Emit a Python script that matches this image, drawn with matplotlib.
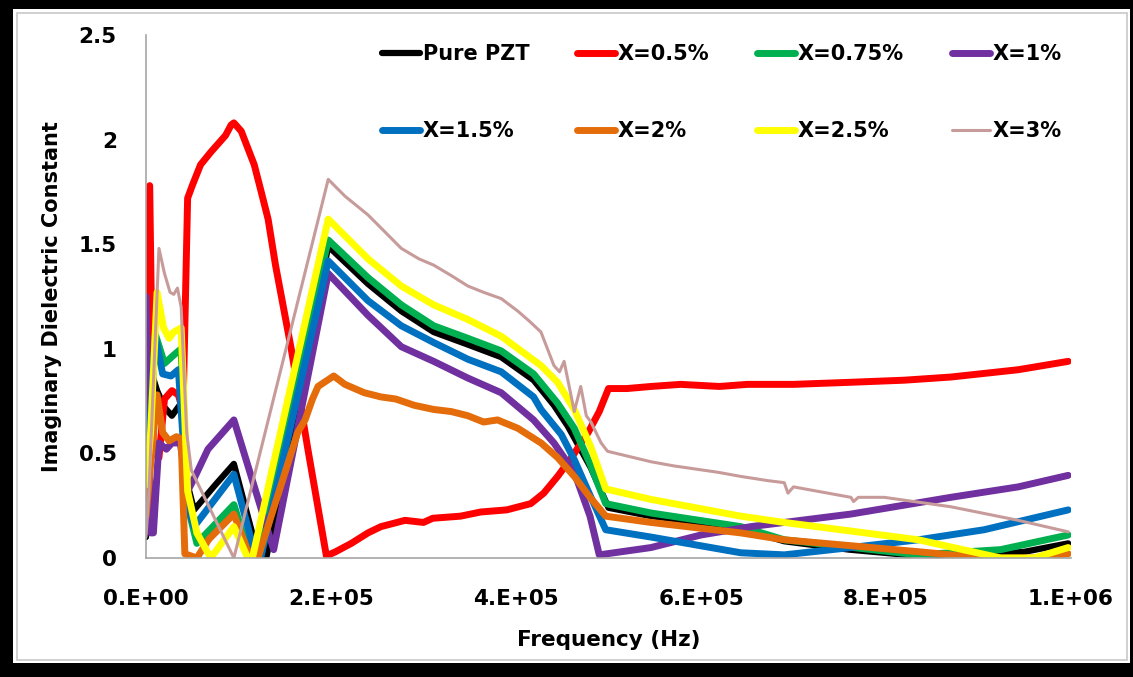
import matplotlib.pyplot as plt
from matplotlib.patches import Rectangle

# Imaginary dielectric constant vs frequency for PZT doped at several levels.
# Frequencies in kHz, converted to Hz when plotted.
f_pure = [0, 5, 12, 20, 28, 33, 38, 45, 52, 75, 95, 110, 122, 130, 197, 240, 276, 311, 348, 384,
          419, 441, 456, 481, 500, 546, 600, 643, 690, 760, 835, 900, 950, 997]
e_pure = [0.10, 0.90, 0.80, 0.72, 0.68, 0.71, 0.74, 0.35, 0.23, 0.35, 0.45, 0.20, 0.00, 0.00, 1.49, 1.31,
          1.18, 1.08, 1.02, 0.96, 0.85, 0.73, 0.63, 0.43, 0.24, 0.20, 0.17, 0.14, 0.08, 0.04, 0.01, 0.01,
          0.03, 0.07]

f_05 = [0, 4, 8, 14, 20, 28, 35, 40, 45, 50, 59, 70, 78, 86, 92, 95, 103, 117, 124, 132, 140, 157,
        175, 195, 205, 222, 240, 254, 280, 300, 310, 340, 362, 390, 416, 430, 445, 460, 478, 490,
        500, 520, 546, 578, 620, 650, 700, 762, 820, 870, 943, 997]
e_05 = [0.60, 1.78, 0.50, 0.48, 0.76, 0.80, 0.78, 0.70, 1.72, 1.78, 1.88, 1.94, 1.98, 2.02, 2.07,
        2.08, 2.04, 1.88, 1.76, 1.62, 1.40, 1.00, 0.52, 0.01, 0.03, 0.07, 0.12, 0.15, 0.18, 0.17,
        0.19, 0.20, 0.22, 0.23, 0.26, 0.31, 0.39, 0.48, 0.60, 0.70, 0.81, 0.81, 0.82, 0.83, 0.82,
        0.83, 0.83, 0.84, 0.85, 0.865, 0.90, 0.94]

f_075 = [0, 10, 20, 30, 38, 45, 55, 95, 113, 120, 197, 240, 276, 311, 348, 384, 419, 445, 463, 480,
         497, 546, 643, 690, 835, 924, 997]
e_075 = [0.30, 1.07, 0.93, 0.97, 1.00, 0.25, 0.07, 0.255, 0.00, 0.00, 1.52, 1.34, 1.21, 1.11, 1.05,
         0.99, 0.88, 0.74, 0.62, 0.45, 0.26, 0.215, 0.15, 0.087, 0.015, 0.04, 0.11]

f_1 = [0, 5, 8, 14, 22, 28, 37, 45, 52, 67, 95, 138, 197, 240, 276, 311, 348, 384, 419, 441, 463,
       480, 490, 546, 600, 654, 762, 870, 943, 997]
e_1 = [1.25, 0.12, 0.12, 0.55, 0.52, 0.55, 0.55, 0.32, 0.38, 0.52, 0.66, 0.04, 1.36, 1.16, 1.01,
       0.94, 0.86, 0.79, 0.66, 0.55, 0.41, 0.20, 0.015, 0.05, 0.11, 0.15, 0.21, 0.29, 0.34, 0.395]

f_15 = [0, 10, 18, 27, 35, 45, 52, 95, 119, 124, 197, 240, 276, 311, 348, 384, 419, 427, 449, 463,
        480, 497, 546, 643, 690, 762, 835, 906, 997]
e_15 = [0.30, 1.06, 0.88, 0.87, 0.90, 0.25, 0.15, 0.40, 0.00, 0.00, 1.42, 1.23, 1.11, 1.03, 0.95,
        0.89, 0.77, 0.71, 0.59, 0.47, 0.30, 0.135, 0.10, 0.025, 0.015, 0.05, 0.087, 0.135, 0.23]

f_2 = [0, 5, 12, 18, 25, 33, 38, 42, 55, 68, 95, 113, 121, 164, 172, 180, 186, 203, 215, 236, 254,
       270, 290, 311, 330, 348, 365, 380, 402, 427, 445, 463, 480, 497, 546, 643, 690, 835, 906,
       960, 997]
e_2 = [0.20, 0.45, 0.78, 0.60, 0.56, 0.58, 0.57, 0.02, 0.00, 0.09, 0.21, 0.00, 0.00, 0.60, 0.66,
       0.76, 0.82, 0.87, 0.83, 0.79, 0.77, 0.76, 0.73, 0.71, 0.70, 0.68, 0.65, 0.66, 0.62, 0.55,
       0.48, 0.39, 0.29, 0.20, 0.17, 0.12, 0.087, 0.03, 0.00, 0.00, 0.02]

f_25 = [0, 5, 12, 19, 25, 30, 38, 45, 55, 70, 95, 110, 115, 197, 240, 276, 311, 348, 384, 427, 445,
        463, 481, 497, 546, 643, 690, 835, 924, 960, 997]
e_25 = [0.35, 0.60, 1.27, 1.10, 1.05, 1.08, 1.10, 0.32, 0.12, 0.00, 0.15, 0.00, 0.00, 1.62, 1.43,
        1.30, 1.21, 1.14, 1.06, 0.92, 0.84, 0.71, 0.53, 0.33, 0.28, 0.20, 0.17, 0.087, 0.00, 0.00,
        0.05]

f_3 = [0, 3, 14, 20, 26, 30, 34, 38, 44, 49, 95, 197, 215, 240, 258, 276, 295, 311, 330, 348, 365,
       384, 402, 415, 427, 441, 447, 452, 463, 470, 476, 481, 492, 499, 546, 571, 618, 643, 672,
       690, 694, 700, 762, 765, 770, 798, 870, 943, 997]
e_3 = [0.10, 0.30, 1.48, 1.36, 1.27, 1.26, 1.29, 1.20, 0.60, 0.42, 0.00, 1.81, 1.73, 1.64, 1.56,
       1.48, 1.43, 1.40, 1.35, 1.30, 1.27, 1.24, 1.18, 1.13, 1.08, 0.92, 0.89, 0.94, 0.70, 0.82,
       0.68, 0.65, 0.55, 0.51, 0.46, 0.44, 0.41, 0.39, 0.37, 0.36, 0.31, 0.34, 0.29, 0.27, 0.29,
       0.29, 0.245, 0.18, 0.125]

series = [
    ("Pure PZT", f_pure, e_pure, "#000000", 4.5),
    ("X=0.5%", f_05, e_05, "#FF0000", 5),
    ("X=0.75%", f_075, e_075, "#00B050", 5),
    ("X=1%", f_1, e_1, "#7030A0", 5),
    ("X=1.5%", f_15, e_15, "#0070C0", 5),
    ("X=2%", f_2, e_2, "#E46C0A", 5),
    ("X=2.5%", f_25, e_25, "#FFFF00", 5),
    ("X=3%", f_3, e_3, "#C89B9B", 2.2),
]

x_ticks = [0, 2e5, 4e5, 6e5, 8e5, 1e6]
x_tick_labels = ["0.E+00", "2.E+05", "4.E+05", "6.E+05", "8.E+05", "1.E+06"]
y_ticks = [0, 0.5, 1, 1.5, 2, 2.5]
y_tick_labels = ["0", "0.5", "1", "1.5", "2", "2.5"]

plt.rcParams['font.family'] = ['DejaVu Sans']
plt.rcParams['font.weight'] = 'bold'

fig = plt.figure(figsize=(11.33, 6.77), dpi=100)
fig.patch.set_facecolor("black")
W, H = 1133, 677
# white panel inside the black frame, with a light grey outline
fig.patches.append(Rectangle((13 / W, 1 - 663 / H), (1130 - 13) / W, (663 - 9) / H,
                             transform=fig.transFigure, facecolor="white", edgecolor="none",
                             zorder=-2))
fig.patches.append(Rectangle((17 / W, 1 - 660 / H), (1127 - 17) / W, (660 - 13) / H,
                             transform=fig.transFigure, facecolor="none", edgecolor="#c8c8c8",
                             lw=1.2, zorder=-1))

ax = fig.add_axes([146 / W, 1 - 558 / H, (1071 - 146) / W, (558 - 35) / H])
ax.set_facecolor("none")
ax.set_zorder(2)

lines = {}
for label, f, e, color, lw in series:
    ln, = ax.plot([v * 1e3 for v in f], e, color=color, lw=lw, label=label,
                  solid_joinstyle="round", solid_capstyle="round")
    lines[label] = ln

ax.set_xlim(0, 1e6)
ax.set_ylim(0, 2.5)
ax.set_xticks(x_ticks, x_tick_labels)
ax.set_yticks(y_ticks, y_tick_labels)
ax.tick_params(length=0, labelsize=15.5)
ax.tick_params(axis="y", pad=21)
ax.tick_params(axis="x", pad=22)
for s in ["top", "right"]:
    ax.spines[s].set_visible(False)
for s in ["left", "bottom"]:
    ax.spines[s].set_color("#a6a6a6")
    ax.spines[s].set_linewidth(1.2)

ax.set_xlabel("Frequency (Hz)", fontsize=15.5, fontweight="bold")
ax.set_ylabel("Imaginary Dielectric Constant", fontsize=15, fontweight="bold")
ax.xaxis.set_label_coords(0.5, (558 - 640) / 523)
ax.xaxis.label.set_va("center")
ax.yaxis.set_label_coords((52 - 146) / 925, 0.5)
ax.yaxis.label.set_va("center")

# legend fills column-wise, so interleave the two rows
order = ["Pure PZT", "X=1.5%", "X=0.5%", "X=2%", "X=0.75%", "X=2.5%", "X=1%", "X=3%"]
handles = [lines[k] for k in order]
leg = fig.legend(handles, order, loc="upper left", bbox_to_anchor=(382 / W, 1 - 44 / H), ncol=4,
                 frameon=False, fontsize=15, handlelength=1.8, handletextpad=0.15,
                 columnspacing=2.3, labelspacing=2.75, borderpad=0, borderaxespad=0)
leg.set_zorder(3)

fig.savefig("out.png", dpi=100, facecolor=fig.get_facecolor())
